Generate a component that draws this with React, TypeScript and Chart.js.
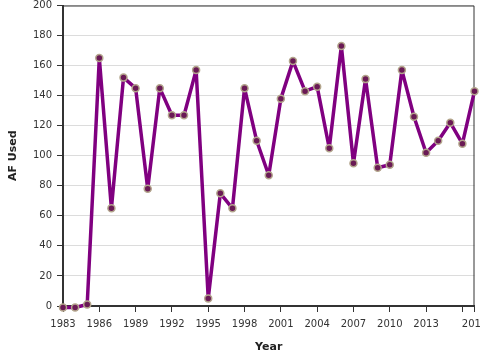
import React, { useEffect, useRef } from "react";
import { Chart, registerables } from "chart.js";

Chart.register(...registerables);

const years: number[] = [
  1983, 1984, 1985, 1986, 1987, 1988, 1989, 1990, 1991, 1992, 1993, 1994,
  1995, 1996, 1997, 1998, 1999, 2000, 2001, 2002, 2003, 2004, 2005, 2006,
  2007, 2008, 2009, 2010, 2011, 2012, 2013, 2014, 2015, 2016, 2017,
];
const afUsed: number[] = [
  -1, -1, 1, 165, 65, 152, 145, 78, 145, 127, 127, 157,
  5, 75, 65, 145, 110, 87, 138, 163, 143, 146, 105, 173,
  95, 151, 92, 94, 157, 126, 102, 110, 122, 108, 143,
];
const xTicks: number[] = [1983, 1986, 1989, 1992, 1995, 1998, 2001, 2004, 2007, 2010, 2013, 2016, 2017];
const hiddenXLabels: number[] = [2016];

const frame = {
  id: "frame",
  beforeDatasetsDraw(chart: any) {
    const { ctx, chartArea } = chart;
    ctx.save();
    ctx.strokeStyle = "#333";
    ctx.lineWidth = 1;
    ctx.beginPath();
    ctx.moveTo(chartArea.left, chartArea.top + 0.5);
    ctx.lineTo(chartArea.right - 0.5, chartArea.top + 0.5);
    ctx.lineTo(chartArea.right - 0.5, chartArea.bottom);
    ctx.stroke();
    ctx.restore();
  },
};

export default function App() {
  const ref = useRef<HTMLCanvasElement>(null);
  useEffect(() => {
    document.body.style.margin = "0";
    const chart = new Chart(ref.current!, {
      type: "line",
      data: {
        datasets: [
          {
            data: years.map((y, i) => ({ x: y, y: afUsed[i] })),
            borderColor: "#800080",
            borderWidth: 3.5,
            borderJoinStyle: "round",
            borderCapStyle: "round",
            pointRadius: 3.5,
            pointBackgroundColor: "#6a1a55",
            pointBorderColor: "#b3a58c",
            pointBorderWidth: 1.5,
            tension: 0,
            clip: false as any,
          },
        ],
      },
      options: {
        responsive: false,
        animation: false,
        layout: { padding: { left: 0, right: 5, top: 4, bottom: 0 } },
        plugins: { legend: { display: false }, tooltip: { enabled: false } },
        scales: {
          x: {
            type: "linear",
            min: 1983,
            max: 2017,
            afterBuildTicks: (s: any) => {
              s.ticks = xTicks.map((v) => ({ value: v }));
            },
            afterFit: (s: any) => {
              s.height = 54;
              s.paddingLeft = 0;
              s.paddingRight = 0;
            },
            grid: { drawOnChartArea: false, tickColor: "#333", tickLength: 6, tickWidth: 1 },
            border: { display: true, color: "#333", width: 2 },
            ticks: {
              autoSkip: false,
              maxRotation: 0,
              padding: 6,
              color: "#333",
              font: { family: "DejaVu Sans", size: 10 },
              callback: (v: any) => (hiddenXLabels.includes(v) ? "" : String(v)),
            },
            title: {
              display: true,
              text: "Year",
              color: "#222",
              font: { family: "DejaVu Sans", size: 11, weight: "bold" },
              padding: { top: 0, bottom: 6 },
            },
          },
          y: {
            min: 0,
            max: 200,
            afterFit: (s: any) => {
              s.width = 63;
              s.paddingTop = 0;
              s.paddingBottom = 0;
            },
            grid: { color: "#dcdcdc", tickColor: "#333", tickLength: 6, lineWidth: 1 },
            border: { display: true, color: "#333", width: 2 },
            ticks: {
              stepSize: 20,
              padding: 5,
              color: "#333",
              font: { family: "DejaVu Sans", size: 10 },
            },
            title: {
              display: true,
              text: "AF Used",
              color: "#222",
              font: { family: "DejaVu Sans", size: 11, weight: "bold" },
              padding: { top: 7, bottom: 0 },
            },
          },
        },
      },
      plugins: [frame],
    });
    return () => chart.destroy();
  }, []);
  return (
    <div style={{ width: 480, height: 360 }}>
      <canvas ref={ref} width={480} height={360} />
    </div>
  );
}
